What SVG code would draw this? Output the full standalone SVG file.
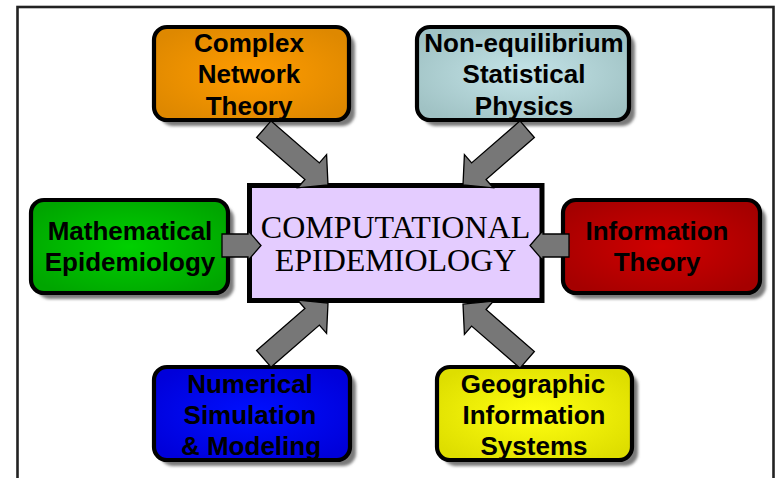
<svg xmlns="http://www.w3.org/2000/svg" width="778" height="478" viewBox="0 0 778 478">
<style>
.box{stroke:#000;stroke-width:4.2}
.sh{fill:#7a7a7a;filter:url(#blur)}
.lbl{font-family:"Liberation Sans",Arial,sans-serif;font-weight:bold;font-size:26px;text-anchor:middle;fill:#000}
.ctr{font-family:"Liberation Serif","Times New Roman",serif;font-size:32px;text-anchor:middle;fill:#000}
.arr{fill:#777;stroke:#000;stroke-width:1.3;stroke-linejoin:miter}
</style>
<defs>
<filter id="blur" x="-10%" y="-10%" width="120%" height="120%"><feGaussianBlur stdDeviation="1.4"/></filter>
<radialGradient id="gOr" cx="50%" cy="50%" r="60%"><stop offset="0" stop-color="#FF9C00"/><stop offset="1" stop-color="#DE8800"/></radialGradient>
<radialGradient id="gTe" cx="50%" cy="50%" r="60%"><stop offset="0" stop-color="#C4E4E8"/><stop offset="1" stop-color="#A0C2C4"/></radialGradient>
<radialGradient id="gGr" cx="50%" cy="50%" r="60%"><stop offset="0" stop-color="#00D000"/><stop offset="1" stop-color="#00A500"/></radialGradient>
<radialGradient id="gRe" cx="50%" cy="50%" r="60%"><stop offset="0" stop-color="#D00000"/><stop offset="1" stop-color="#A50000"/></radialGradient>
<radialGradient id="gBl" cx="50%" cy="50%" r="60%"><stop offset="0" stop-color="#0010FF"/><stop offset="1" stop-color="#0000DA"/></radialGradient>
<radialGradient id="gYe" cx="50%" cy="50%" r="60%"><stop offset="0" stop-color="#FFFF10"/><stop offset="1" stop-color="#DEDE00"/></radialGradient>
<path id="bigArrow" d="M-85,-11 L-21,-11 L-21,-22 L0,0 L-21,22 L-21,11 L-85,11 Z"/>
<path id="smallArrow" d="M-39,-11.5 L-13,-11.5 L-13,-15 L0,0 L-13,15 L-13,11.5 L-39,11.5 Z"/>
</defs>
<rect x="0" y="0" width="778" height="478" fill="#fff"/>
<rect x="17.5" y="7" width="756" height="490" fill="#fff" stroke="#222" stroke-width="2.6"/>

<g id="complex-network-theory">
<rect class="sh" x="160" y="33" width="195" height="93" rx="13"/>
<rect class="box" x="154" y="27" width="195" height="93" rx="13" fill="url(#gOr)"/>
<text class="lbl" x="249" y="52">Complex</text>
<text class="lbl" x="249" y="83">Network</text>
<text class="lbl" x="249" y="115">Theory</text>
</g>

<g id="non-equilibrium-statistical-physics">
<rect class="sh" x="423" y="33" width="212" height="93" rx="13"/>
<rect class="box" x="417" y="27" width="212" height="93" rx="13" fill="url(#gTe)"/>
<text class="lbl" x="524" y="52">Non-equilibrium</text>
<text class="lbl" x="524" y="83">Statistical</text>
<text class="lbl" x="524" y="115">Physics</text>
</g>

<g id="mathematical-epidemiology">
<rect class="sh" x="37" y="206" width="197" height="93" rx="13"/>
<rect class="box" x="31" y="200" width="197" height="93" rx="13" fill="url(#gGr)"/>
<text class="lbl" x="130" y="240">Mathematical</text>
<text class="lbl" x="130" y="271">Epidemiology</text>
</g>

<g id="information-theory">
<rect class="sh" x="569" y="206" width="197" height="93" rx="13"/>
<rect class="box" x="563" y="200" width="197" height="93" rx="13" fill="url(#gRe)"/>
<text class="lbl" x="657" y="240">Information</text>
<text class="lbl" x="657" y="271">Theory</text>
</g>

<g id="numerical-simulation-modeling">
<rect class="sh" x="160" y="373" width="196" height="93" rx="13"/>
<rect class="box" x="154" y="367" width="196" height="93" rx="13" fill="url(#gBl)"/>
<text class="lbl" x="250" y="393">Numerical</text>
<text class="lbl" x="250" y="424">Simulation</text>
<text class="lbl" x="251" y="455">&amp; Modeling</text>
</g>

<g id="geographic-information-systems">
<rect class="sh" x="443" y="373" width="195" height="93" rx="13"/>
<rect class="box" x="437" y="367" width="195" height="93" rx="13" fill="url(#gYe)"/>
<text class="lbl" x="533" y="393">Geographic</text>
<text class="lbl" x="534" y="424">Information</text>
<text class="lbl" x="534" y="455">Systems</text>
</g>

<g id="computational-epidemiology">
<rect x="249.5" y="185.5" width="292.5" height="115" fill="#E4CCFF" stroke="#000" stroke-width="5"/>
<text class="ctr" x="395.5" y="238">COMPUTATIONAL</text>
<text class="ctr" x="395.5" y="271">EPIDEMIOLOGY</text>
</g>

<g id="connectors">
<use href="#bigArrow" class="arr" transform="translate(328,185) rotate(41)"/>
<use href="#bigArrow" class="arr" transform="translate(463,185) rotate(139)"/>
<use href="#bigArrow" class="arr" transform="translate(328,303) rotate(-41)"/>
<use href="#bigArrow" class="arr" transform="translate(463,304) rotate(-139)"/>
<use href="#smallArrow" class="arr" transform="translate(261,245.5)"/>
<use href="#smallArrow" class="arr" transform="translate(530,245.5) rotate(180)"/>
</g>
</svg>
